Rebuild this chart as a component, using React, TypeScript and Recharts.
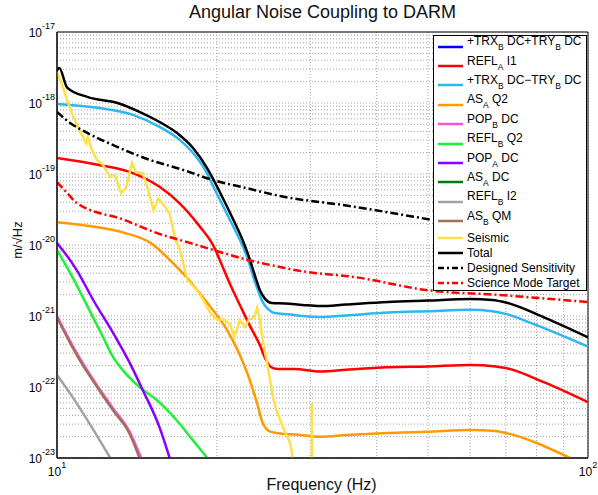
import { CartesianGrid, Line, LineChart, ReferenceArea, XAxis, YAxis } from "recharts";

type Pt = [number, number | null];

// frequency (Hz), amplitude (m/√Hz)
const refla_i1: Pt[] = [
  [10, 1.68e-19], [12, 1.34e-19], [13.9, 1.03e-19], [15.6, 6.6e-20], [17, 3.9e-20],
  [18.6, 1.8e-20], [19.67, 1.0e-20], [20.45, 5.2e-21], [21.17, 2.82e-21], [22.1, 1.43e-21],
  [23.1, 7.2e-22], [24.1, 3.9e-22], [24.75, 2.4e-22], [25.3, 1.91e-22], [26.1, 1.79e-22],
  [28, 1.8e-22], [31.3, 1.65e-22], [35, 1.75e-22], [42, 1.9e-22], [50, 1.95e-22],
  [60, 2.04e-22], [67, 1.95e-22], [70, 1.85e-22], [83, 1.15e-22], [100, 6.1e-23]
];
const trxMinusTry: Pt[] = [
  [10, 9.7e-19], [12, 8.5e-19], [13.9, 6.8e-19], [15.6, 4.6e-19], [17.04, 3.0e-19],
  [18.04, 1.98e-19], [19.16, 1.03e-19], [19.67, 6.8e-20], [20.28, 4.3e-20], [21.17, 2.25e-20],
  [22.1, 1.18e-20], [22.8, 6.8e-21], [23.4, 3.66e-21], [23.9, 2.32e-21], [24.4, 1.57e-21],
  [24.96, 1.26e-21], [25.7, 1.1e-21], [27.5, 1.05e-21], [29, 1.0e-21], [31.3, 9.7e-22],
  [35, 1.02e-21], [42, 1.12e-21], [50, 1.17e-21], [60, 1.22e-21], [66, 1.17e-21],
  [70, 1.07e-21], [78, 8.0e-22], [100, 3.7e-22]
];
const asa_q2: Pt[] = [
  [10, 2.1e-20], [11.5, 1.85e-20], [13.4, 1.48e-20], [15, 1.07e-20], [16.3, 6.2e-21],
  [17.6, 3.4e-21], [19.2, 1.52e-21], [20.9, 6.4e-22], [22.8, 1.6e-22], [23.8, 6e-23],
  [24.4, 3.1e-23], [25.2, 2.35e-23], [26.5, 2.2e-23], [28, 2.15e-23], [31.3, 2.0e-23],
  [35, 2.1e-23], [42, 2.25e-23], [50, 2.35e-23], [60, 2.48e-23], [67, 2.4e-23],
  [70, 2.25e-23], [92.5, 1.0e-23]
];
const popb_dc: Pt[] = [
  [10, 1.0e-21], [10.45, 5.3e-22], [11.05, 2.5e-22], [11.9, 1.05e-22], [12.75, 5e-23],
  [13.7, 2.35e-23], [14.4, 1.0e-23]
];
const reflb_q2: Pt[] = [
  [10, 8.5e-21], [10.7, 3.5e-21], [11.5, 1.22e-21], [12.2, 5.1e-22], [12.75, 2.65e-22],
  [13.3, 1.73e-22], [14.3, 1.0e-22], [15.4, 6.6e-23], [16.8, 3.4e-23], [18, 1.8e-23],
  [19.2, 1.0e-23]
];
const popa_dc: Pt[] = [
  [10, 1.07e-20], [10.9, 4.4e-21], [11.7, 1.68e-21], [12.75, 5.8e-22], [13.7, 2.2e-22],
  [14.5, 9.1e-23], [15.6, 2.7e-23], [16.3, 1.0e-23]
];
const reflb_i2: Pt[] = [[10, 1.48e-22], [10.7, 7.2e-23], [11.5, 3.1e-23], [12.6, 1.0e-23]];
const asb_qm: Pt[] = [
  [10, 9.5e-22], [10.45, 5.0e-22], [11.05, 2.35e-22], [11.9, 1.0e-22], [12.75, 4.7e-23],
  [13.7, 2.2e-23], [14.3, 1.0e-23]
];
const seismic: Pt[] = [
  [10, 2.7e-18], [10.2, 1.9e-18], [10.45, 1.1e-18], [10.67, 7.2e-19], [10.95, 4.6e-19],
  [11.2, 3.3e-19], [11.35, 2.7e-19], [11.42, 3.3e-19], [11.63, 2.2e-19], [11.9, 1.57e-19],
  [12.2, 1.35e-19], [12.58, 9.1e-20], [12.85, 9.7e-20], [13.2, 5.4e-20], [13.5, 6.5e-20],
  [13.84, 1.43e-19], [14.1, 1.05e-19], [14.5, 1.03e-19], [14.84, 6e-20], [15.2, 3.1e-20],
  [15.5, 4.5e-20], [15.9, 3.6e-20], [16.3, 2.8e-20], [16.7, 1.18e-20], [17.05, 8.5e-21],
  [17.35, 4.9e-21], [17.6, 3.2e-21], [18.35, 2.3e-21], [18.85, 1.68e-21], [19.4, 1.14e-21],
  [20, 8.8e-22], [20.6, 9e-22], [21.2, 7.5e-22], [21.6, 5.1e-22], [22.1, 8.8e-22],
  [22.6, 7e-22], [23, 9e-22], [23.5, 9.5e-22], [23.8, 1.3e-21], [24.1, 8.8e-22],
  [24.4, 4.6e-22], [24.86, 2.2e-22], [25.2, 1.26e-22], [25.5, 7.2e-23], [25.9, 4.7e-23],
  [26.65, 2.7e-23], [27.5, 1.6e-23], [27.8, 1.0e-23], [29, null], [30.2, 1.0e-23],
  [30.2, 6e-23]
];
const totalNoise: Pt[] = [
  [10, 2.9e-18], [10.1, 3.1e-18], [10.45, 1.65e-18], [11.4, 1.22e-18], [13, 1.0e-18],
  [14.3, 7.5e-19], [15.6, 5.4e-19], [16.83, 3.78e-19], [18.04, 2.32e-19], [19.16, 1.22e-19],
  [20.3, 5.4e-20], [21.46, 2.3e-20], [22.4, 1.14e-20], [23.1, 6.1e-21], [23.6, 3.66e-21],
  [24.1, 2.32e-21], [24.65, 1.74e-21], [25.4, 1.52e-21], [26.9, 1.5e-21], [29, 1.43e-21],
  [31.3, 1.38e-21], [35, 1.45e-21], [42, 1.57e-21], [50, 1.65e-21], [60, 1.74e-21],
  [66, 1.68e-21], [70, 1.55e-21], [83, 9.4e-22], [100, 5.0e-22]
];
const designed: Pt[] = [
  [10, 7.5e-19], [10.6, 5.2e-19], [11.4, 3.8e-19], [13, 2.4e-19], [15, 1.57e-19],
  [17.3, 1.14e-19], [19.7, 8.2e-20], [22.8, 6.3e-20], [26.3, 4.9e-20], [35, 3.6e-20],
  [51, 2.25e-20]
];
const scienceTarget: Pt[] = [
  [10, 7.7e-20], [10.45, 5.4e-20], [10.9, 3.9e-20], [13.4, 2.25e-20], [15.4, 1.48e-20],
  [17.8, 1.07e-20], [20.6, 7.7e-21], [22.8, 6.2e-21], [26.3, 4.9e-21], [28, 4.45e-21],
  [36.7, 3.5e-21], [50, 2.3e-21], [68, 1.98e-21], [100, 1.57e-21]
];

const xTicks = [10, 20, 30, 40, 50, 60, 70, 80, 90, 100];
const decades = [-23, -22, -21, -20, -19, -18];
const mantissas = [1, 2, 3, 4, 5, 6, 7, 8, 9];
const yTicks = [...decades.flatMap((e) => mantissas.map((m) => m * Math.pow(10, e))), 1e-17];

type Seg = [string, string];
const legendItems: { label: Seg[]; color: string; dash?: boolean }[] = [
  { label: [["+TRX", "B"], [" DC+TRY", "B"], [" DC", ""]], color: "#0000ff" },
  { label: [["REFL", "A"], [" I1", ""]], color: "#ff0000" },
  { label: [["+TRX", "B"], [" DC\u2212TRY", "B"], [" DC", ""]], color: "#2bb7f2" },
  { label: [["AS", "A"], [" Q2", ""]], color: "#ff9a00" },
  { label: [["POP", "B"], [" DC", ""]], color: "#ff50d6" },
  { label: [["REFL", "B"], [" Q2", ""]], color: "#1ef03c" },
  { label: [["POP", "A"], [" DC", ""]], color: "#8a00ff" },
  { label: [["AS", "A"], [" DC", ""]], color: "#007a10" },
  { label: [["REFL", "B"], [" I2", ""]], color: "#a2a2a2" },
  { label: [["AS", "B"], [" QM", ""]], color: "#a0705a" },
  { label: [["Seismic", ""]], color: "#ffe04a" },
  { label: [["Total", ""]], color: "#000000" },
  { label: [["Designed Sensitivity", ""]], color: "#000000", dash: true },
  { label: [["Science Mode Target", ""]], color: "#ff0000", dash: true }
];

const toRows = (pts: Pt[]) => pts.map(([f, v]) => ({ f, v }));
const FONT = "'Liberation Sans', Arial, sans-serif";
const DASH = "8 3 2 3";

function isDecade(v: number) {
  const e = Math.round(Math.log10(v));
  return Math.abs(v / Math.pow(10, e) - 1) < 1e-6 ? e : null;
}

function YTick({ x, y, payload }: any) {
  const e = isDecade(payload.value);
  if (e === null) return null;
  return (
    <text x={x} y={y + 4.5} textAnchor="end" fontSize={12} fill="#000" fontFamily={FONT}>
      <tspan>10</tspan>
      <tspan dy={-7.5} fontSize={9}>{e}</tspan>
    </text>
  );
}

function XTick({ x, y, payload }: any) {
  const e = isDecade(payload.value);
  if (e === null) return null;
  return (
    <text x={x} y={y + 18} textAnchor="middle" fontSize={12} fill="#000" fontFamily={FONT}>
      <tspan>10</tspan>
      <tspan dy={-8} fontSize={9}>{e}</tspan>
    </text>
  );
}

function LegendBox() {
  return (
    <div
      style={{
        position: "absolute",
        left: 433,
        top: 35,
        width: 154,
        height: 256,
        boxSizing: "border-box",
        border: "1px solid #000",
        background: "#fff",
        paddingTop: 1,
        fontFamily: FONT,
        fontSize: 12,
        color: "#000"
      }}
    >
      {legendItems.map((item, i) => {
        const hasSub = item.label.some((s) => s[1] !== "");
        return (
          <div
            key={i}
            style={{ height: hasSub ? 19.4 : 15, display: "flex", alignItems: "center" }}
          >
            <svg width={25} height={4} style={{ marginLeft: 4, marginRight: 4, flex: "none" }}>
              <line
                x1={0}
                x2={25}
                y1={2}
                y2={2}
                stroke={item.color}
                strokeWidth={2.5}
                strokeDasharray={item.dash ? "6 3 2 3" : undefined}
              />
            </svg>
            <span style={{ position: "relative", top: hasSub ? -5 : 0, whiteSpace: "nowrap", lineHeight: "12px" }}>
              {item.label.map(([t, s], j) => (
                <span key={j}>
                  {t}
                  {s ? (
                    <span style={{ fontSize: 8.5, position: "relative", top: 5 }}>{s}</span>
                  ) : null}
                </span>
              ))}
            </span>
          </div>
        );
      })}
    </div>
  );
}

export default function App() {
  const lines: { data: Pt[]; color: string; dash?: boolean; linear?: boolean }[] = [
    { data: refla_i1, color: "#ff0000" },
    { data: trxMinusTry, color: "#2bb7f2" },
    { data: asa_q2, color: "#ff9a00" },
    { data: popb_dc, color: "#ff50d6" },
    { data: reflb_q2, color: "#1ef03c" },
    { data: popa_dc, color: "#8a00ff" },
    { data: reflb_i2, color: "#a2a2a2" },
    { data: asb_qm, color: "#a0705a" },
    { data: seismic, color: "#ffe04a", linear: true },
    { data: totalNoise, color: "#000000" },
    { data: designed, color: "#000000", dash: true },
    { data: scienceTarget, color: "#ff0000", dash: true }
  ];

  return (
    <div style={{ position: "relative", width: 598, height: 495, fontFamily: FONT, background: "#fff" }}>
      <style>{"body{margin:0}"}</style>
      <div
        style={{
          position: "absolute",
          left: 0,
          width: 645,
          top: 2,
          textAlign: "center",
          fontSize: 18,
          color: "#111"
        }}
      >
        Angular Noise Coupling to DARM
      </div>
      <LineChart width={598} height={495} margin={{ top: 32, right: 10, bottom: 0, left: 0 }}>
        <CartesianGrid stroke="#8a8a8a" strokeDasharray="1 2" strokeWidth={0.8} />
        <XAxis
          type="number"
          dataKey="f"
          scale="log"
          domain={[10, 100]}
          ticks={xTicks}
          allowDataOverflow
          height={37}
          tickLine={false}
          tickSize={0}
          tickMargin={0}
          axisLine={{ stroke: "#000" }}
          tick={<XTick />}
          interval={0}
        />
        <YAxis
          type="number"
          dataKey="v"
          scale="log"
          domain={[1e-23, 1e-17]}
          ticks={yTicks}
          allowDataOverflow
          width={57}
          tickLine={false}
          tickSize={0}
          tickMargin={2}
          axisLine={{ stroke: "#000" }}
          tick={<YTick />}
          interval={0}
        />
        {lines.map((l, i) => (
          <Line
            key={i}
            data={toRows(l.data)}
            dataKey="v"
            type={l.linear ? "linear" : "monotone"}
            stroke={l.color}
            strokeWidth={2.5}
            strokeDasharray={l.dash ? DASH : undefined}
            dot={false}
            activeDot={false}
            connectNulls={false}
            isAnimationActive={false}
          />
        ))}
        <ReferenceArea x1={10} x2={100} y1={1e-23} y2={1e-17} fill="none" stroke="#000" strokeWidth={1} />
      </LineChart>
      <div
        style={{
          position: "absolute",
          left: 17,
          top: 240,
          transform: "translate(-50%, -50%) rotate(-90deg)",
          fontSize: 13,
          whiteSpace: "nowrap",
          color: "#111"
        }}
      >
        m/√Hz
      </div>
      <div
        style={{
          position: "absolute",
          left: 0,
          width: 643,
          top: 476,
          textAlign: "center",
          fontSize: 16,
          color: "#111"
        }}
      >
        Frequency (Hz)
      </div>
      <LegendBox />
    </div>
  );
}
